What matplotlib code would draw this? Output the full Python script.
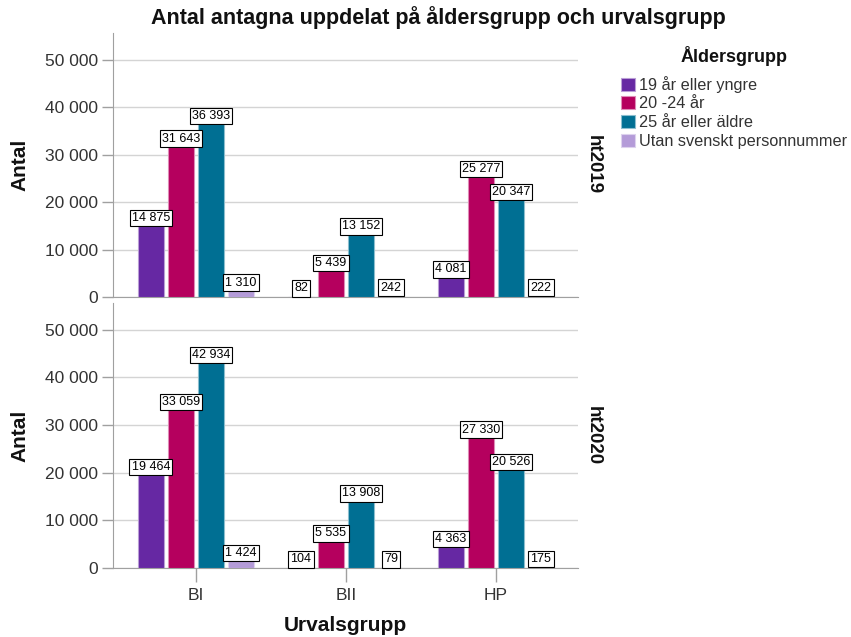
import matplotlib
matplotlib.use("Agg")
import matplotlib.pyplot as plt
from matplotlib.patches import Patch
from matplotlib.ticker import FuncFormatter, MultipleLocator
import matplotlib.colors as mcolors
import numpy as np

plt.rcParams['font.family'] = ['Liberation Sans', 'DejaVu Sans']

# Data
categories = ['BI', 'BII', 'HP']
age_groups = ['19 år eller yngre', '20 -24 år', '25 år eller äldre',
              'Utan svenskt personnummer']
terms = ['ht2019', 'ht2020']

ht2019 = {
    '19 år eller yngre': [14875, 82, 4081],
    '20 -24 år': [31643, 5439, 25277],
    '25 år eller äldre': [36393, 13152, 20347],
    'Utan svenskt personnummer': [1310, 242, 222],
}
ht2020 = {
    '19 år eller yngre': [19464, 104, 4363],
    '20 -24 år': [33059, 5535, 27330],
    '25 år eller äldre': [42934, 13908, 20526],
    'Utan svenskt personnummer': [1424, 79, 175],
}

colors = ['#6628A3', '#B5005E', '#006F93', '#B49BD8']


def lighten(c, amount=0.55):
    rgb = np.array(mcolors.to_rgb(c))
    return tuple(rgb + (1 - rgb) * amount)


def space_thousands(v, pos=None):
    return f"{v:,.0f}".replace(",", " ")


fig = plt.figure(figsize=(8.51, 6.37), dpi=100)
W, H = 851, 637
left, right = 113 / W, 578 / W
ax_top = fig.add_axes([left, 1 - 297 / H, right - left, (297 - 33) / H])
ax_bot = fig.add_axes([left, 1 - 568 / H, right - left, (568 - 303) / H])

x = np.arange(len(categories))
step = 0.2
width = 0.172
grid_c = '#D4D4D4'
axis_c = '#A0A0A0'

for ax, data, term in zip([ax_top, ax_bot], [ht2019, ht2020], terms):
    for i, grp in enumerate(age_groups):
        vals = data[grp]
        xs = x + (i - 1.5) * step
        ax.bar(xs, vals, width=width, color=colors[i],
               edgecolor=lighten(colors[i]), linewidth=0.8, zorder=3)
        for xv, v in zip(xs, vals):
            ax.annotate(space_thousands(v), xy=(xv, v), xytext=(0, 1.6),
                        textcoords='offset points', ha='center', va='bottom',
                        fontsize=9, color='black', zorder=5,
                        bbox=dict(boxstyle='square,pad=0.18', fc='white',
                                  ec='black', lw=0.8))

    ax.set_xlim(-0.553, 2.547)
    ax.set_ylim(0, 55600)
    ax.yaxis.set_major_locator(MultipleLocator(10000))
    ax.yaxis.set_major_formatter(FuncFormatter(space_thousands))
    ax.grid(axis='y', color=grid_c, linewidth=1, zorder=0)
    ax.set_axisbelow(True)
    for s in ['top', 'right']:
        ax.spines[s].set_visible(False)
    ax.spines['left'].set_color(axis_c)
    ax.spines['bottom'].set_color(axis_c)
    ax.tick_params(axis='y', colors=axis_c, length=8, width=1,
                   labelsize=12.5, labelcolor='#333333', pad=3)
    ax.set_xticks(x)
    ax.set_xticklabels(categories)
    ax.tick_params(axis='x', colors=axis_c, length=10, width=1,
                   labelsize=12.5, labelcolor='#333333', pad=4.5)

    # facet label on the right, y-axis title on the left
    y0, y1 = ax.get_position().y0, ax.get_position().y1
    fig.text(593 / W, (y0 + y1) / 2, term, rotation=-90, ha='center',
             va='center', fontsize=13.5, fontweight='bold', color='#111111')
    fig.text(20 / W, (y0 + y1) / 2, 'Antal', rotation=90, ha='center',
             va='center', fontsize=15, fontweight='bold', color='#111111')

ax_top.tick_params(axis='x', bottom=False, labelbottom=False)
ax_bot.set_xlabel('Urvalsgrupp', fontsize=15, fontweight='bold',
                  color='#111111', labelpad=9)

fig.text(438 / W, 1 - 18 / H, 'Antal antagna uppdelat på åldersgrupp och urvalsgrupp',
         ha='center', va='center', fontsize=15.5, fontweight='bold',
         color='#111111')

handles = [Patch(facecolor=c, edgecolor=lighten(c), linewidth=0.8) for c in colors]
leg = fig.legend(handles, age_groups, loc='upper left',
                 bbox_to_anchor=(621 / W, 1 - 46 / H), frameon=False,
                 borderpad=0, borderaxespad=0, fontsize=11.7,
                 handlelength=0.85, handleheight=0.85, handletextpad=0.25,
                 labelspacing=0.22, title='Åldersgrupp',
                 title_fontproperties={'size': 13, 'weight': 'bold'})
for t in leg.get_texts():
    t.set_color('#333333')
leg.get_title().set_color('#111111')
leg._legend_box.sep = 7

fig.savefig('out.png', dpi=100)
